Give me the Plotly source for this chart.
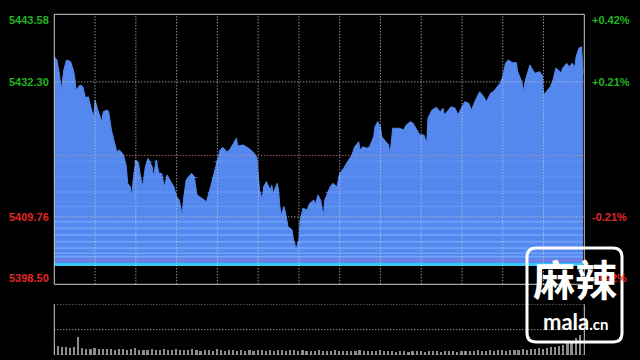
import plotly.graph_objects as go
import numpy as np

# ---------------- data ----------------
prev_close = 5420.03
y_ticks = [5443.58, 5432.30, 5409.76, 5398.50]
y_tick_text = ["5443.58", "5432.30", "5409.76", "5398.50"]
pct_text = ["+0.42%", "+0.21%", "-0.21%", "-0.42%"]

minutes = [0, 2, 4, 5, 7, 9, 12, 14, 15, 16, 19, 21, 23, 25, 28, 29, 30, 32, 35, 36,
           39, 40, 42, 45, 46, 48, 51, 53, 54, 56, 57, 58, 60, 62, 63, 65, 67, 69, 72, 73,
           75, 77, 79, 81, 83, 85, 88, 90, 92, 94, 95, 97, 101, 103, 105, 107, 110, 112, 115, 117,
           120, 122, 124, 127, 129, 132, 134, 135, 139, 143, 146, 149, 150, 151, 153, 154, 156, 159, 160, 161,
           164, 165, 166, 167, 169, 170, 172, 175, 176, 178, 180, 181, 183, 186, 188, 191, 192, 194, 196, 198,
           199, 202, 203, 205, 208, 210, 213, 215, 219, 221, 224, 225, 227, 230, 232, 235, 236, 238, 240, 241,
           243, 246, 247, 248, 249, 254, 257, 259, 262, 264, 267, 269, 272, 274, 275, 278, 281, 284, 286, 287,
           290, 292, 295, 297, 300, 302, 305, 307, 310, 313, 316, 318, 321, 323, 326, 328, 330, 332, 334, 337,
           340, 341, 344, 345, 347, 350, 352, 354, 357, 359, 360, 362, 365, 367, 369, 371, 373, 374, 377, 379,
           381, 383, 384, 386, 388, 389]
prices = [5436.50, 5435.95, 5433.16, 5430.65, 5434.28, 5435.95, 5435.67, 5434.28, 5433.16, 5430.94,
          5431.78, 5431.49, 5429.61, 5429.82, 5427.10, 5426.48, 5429.27, 5427.60, 5425.65, 5427.32,
          5427.60, 5427.32, 5424.26, 5421.47, 5420.64, 5420.92, 5420.09, 5418.13, 5415.36, 5414.79,
          5413.12, 5415.91, 5419.25, 5418.70, 5417.03, 5414.79, 5418.13, 5419.53, 5418.13, 5416.46,
          5419.25, 5417.03, 5417.03, 5414.79, 5416.75, 5415.91, 5414.79, 5413.12, 5412.57, 5410.07,
          5412.57, 5415.91, 5417.03, 5416.46, 5413.41, 5413.12, 5412.57, 5412.29, 5414.79, 5416.46,
          5419.25, 5420.92, 5421.37, 5420.64, 5420.92, 5422.04, 5422.88, 5421.59, 5421.76, 5421.21,
          5420.64, 5419.80, 5417.58, 5414.25, 5412.69, 5414.79, 5415.63, 5414.25, 5415.08, 5413.69,
          5415.36, 5414.25, 5411.46, 5410.07, 5411.46, 5410.62, 5408.12, 5407.57, 5405.90, 5404.51,
          5405.90, 5409.24, 5411.19, 5410.91, 5412.02, 5412.57, 5411.74, 5413.41, 5412.57, 5409.79,
          5412.57, 5414.25, 5414.79, 5415.36, 5414.79, 5417.03, 5417.87, 5418.70, 5420.09, 5421.47,
          5422.31, 5420.92, 5421.47, 5421.21, 5421.47, 5423.14, 5424.81, 5425.65, 5424.81, 5423.14,
          5422.59, 5421.76, 5420.09, 5422.59, 5424.55, 5424.55, 5424.26, 5425.10, 5425.65, 5425.38,
          5424.26, 5423.43, 5423.43, 5422.04, 5426.27, 5427.60, 5428.05, 5427.32, 5427.89, 5426.77,
          5427.60, 5428.15, 5427.89, 5426.77, 5428.15, 5428.99, 5428.72, 5427.60, 5429.27, 5430.65,
          5429.82, 5428.99, 5430.39, 5430.65, 5431.49, 5432.06, 5433.16, 5435.40, 5435.95, 5435.50,
          5435.50, 5434.00, 5432.33, 5430.65, 5432.89, 5435.12, 5434.28, 5433.73, 5434.00, 5433.45,
          5430.11, 5430.65, 5431.49, 5432.61, 5434.56, 5434.28, 5433.73, 5434.56, 5435.40, 5434.83,
          5435.40, 5434.83, 5436.50, 5437.90, 5438.17, 5433.73]

vol_minutes = list(range(0, 390, 3))
volumes = [20, 17, 16, 15, 14, 15, 35, 13, 12, 12, 13, 11, 12, 11, 12, 10, 11, 12, 10, 11,
           13, 10, 9, 10, 11, 9, 10, 12, 9, 10, 11, 9, 10, 9, 12, 9, 8, 10, 9, 8,
           11, 9, 8, 9, 10, 8, 9, 8, 9, 8, 10, 9, 8, 9, 8, 9, 10, 8, 9, 10,
           8, 9, 8, 7, 8, 9, 8, 7, 8, 9, 8, 7, 8, 7, 8, 9, 7, 8, 7, 8,
           9, 7, 8, 7, 6, 7, 8, 6, 7, 8, 7, 6, 7, 8, 7, 6, 7, 8, 7, 6,
           7, 8, 7, 8, 9, 7, 8, 9, 8, 10, 9, 8, 9, 10, 9, 11, 10, 12, 11, 13,
           12, 14, 15, 16, 18, 20, 24, 28, 32, 38]

# ---------------- geometry / style ----------------
W, H = 640, 360
xd = [54.3 / W, 584.3 / W]
yd_main = [1 - 284.3 / H, 1 - 14.3 / H]
yd_vol = [1 - 355.0 / H, 1 - 304.3 / H]
fill_base = 5401.55
FILL = "rgb(84,136,238)"
GRID = "#cfcfcf"
GREEN = "#22b422"
RED = "#e22626"
DOT = "1px,2px"

price_arr = np.array(prices)
fig = go.Figure()

# main area fill
fig.add_trace(go.Scatter(x=minutes, y=[fill_base] * len(minutes), mode="lines",
                         line=dict(width=0, color=FILL), hoverinfo="skip", showlegend=False))
fig.add_trace(go.Scatter(x=minutes, y=prices, mode="lines", fill="tonexty",
                         fillcolor=FILL, line=dict(width=1, color=FILL), showlegend=False))

# horizontal tonal stripes inside the fill
stripes = [
    (5419.0, 0.12, "rgb(94,146,242)"),
    (5416.4, 0.12, "rgb(94,146,242)"),
    (5413.9, 0.12, "rgb(96,148,244)"),
    (5411.5, 0.12, "rgb(98,150,244)"),
    (5408.95, 0.16, "rgb(106,158,248)"),
    (5407.85, 0.16, "rgb(106,158,248)"),
    (5406.73, 0.16, "rgb(108,160,248)"),
    (5405.61, 0.16, "rgb(108,160,248)"),
    (5404.51, 0.16, "rgb(110,162,250)"),
    (5403.68, 0.14, "rgb(112,164,250)"),
    (5403.11, 0.14, "rgb(112,164,250)"),
    (5402.56, 0.16, "rgb(124,122,228)"),
    (5401.80, 0.25, "rgb(56,200,244)"),
]
for lvl, hw, col in stripes:
    lo = lvl - hw
    hi = lvl + hw
    fig.add_trace(go.Scatter(x=minutes, y=[lo] * len(minutes), mode="lines",
                             line=dict(width=0, color=col), hoverinfo="skip", showlegend=False))
    fig.add_trace(go.Scatter(x=minutes, y=np.clip(price_arr, lo, hi), mode="lines",
                             fill="tonexty", fillcolor=col, line=dict(width=0, color=col),
                             hoverinfo="skip", showlegend=False))

# volume bars
fig.add_trace(go.Bar(x=vol_minutes, y=volumes, xaxis="x2", yaxis="y2",
                     marker=dict(color="#8c8c8c", line=dict(width=0)), width=1.2,
                     showlegend=False))

shapes = []
# vertical dotted grid (every 30 minutes) in main panel
for m in range(30, 390, 30):
    shapes.append(dict(type="line", xref="x", yref="paper", x0=m, x1=m,
                       y0=yd_main[0], y1=yd_main[1], layer="above",
                       line=dict(color=GRID, width=1, dash=DOT)))
# horizontal dotted grid
for v in [y_ticks[1], y_ticks[2]]:
    shapes.append(dict(type="line", xref="paper", yref="y", x0=xd[0], x1=xd[1],
                       y0=v, y1=v, layer="above", line=dict(color=GRID, width=1, dash=DOT)))
shapes.append(dict(type="line", xref="paper", yref="y", x0=xd[0], x1=xd[1],
                   y0=prev_close, y1=prev_close, layer="above",
                   line=dict(color="#e0907c", width=1, dash=DOT)))
# main border
shapes.append(dict(type="rect", xref="paper", yref="paper", x0=xd[0], x1=xd[1],
                   y0=yd_main[0], y1=yd_main[1], layer="above",
                   line=dict(color="#cccccc", width=1)))
# volume panel frame
for v in [0, 50, 100]:
    shapes.append(dict(type="line", xref="paper", yref="y2", x0=xd[0], x1=xd[1],
                       y0=v, y1=v, layer="above", line=dict(color=GRID, width=1, dash=DOT)))
for xx in xd:
    shapes.append(dict(type="line", xref="paper", yref="paper", x0=xx, x1=xx,
                       y0=yd_vol[0], y1=yd_vol[1], layer="above",
                       line=dict(color="#cccccc", width=1)))

# watermark rounded rectangle
wx0, wx1 = 527 / W, 622 / W
wy0, wy1 = 1 - 342 / H, 1 - 248 / H
rx, ry = 9 / W, 9 / H
path = (f"M {wx0 + rx},{wy1} L {wx1 - rx},{wy1} Q {wx1},{wy1} {wx1},{wy1 - ry} "
        f"L {wx1},{wy0 + ry} Q {wx1},{wy0} {wx1 - rx},{wy0} L {wx0 + rx},{wy0} "
        f"Q {wx0},{wy0} {wx0},{wy0 + ry} L {wx0},{wy1 - ry} Q {wx0},{wy1} {wx0 + rx},{wy1} Z")
shapes.append(dict(type="path", xref="paper", yref="paper", path=path, layer="above",
                   line=dict(color="white", width=3)))

annotations = []
lab_font = dict(family="Liberation Sans, Arial", size=11, weight="bold")
left_pos = [("paper", 1 - 20 / H), ("y", y_ticks[1]), ("y", y_ticks[2]), ("paper", 1 - 278 / H)]
colors = [GREEN, GREEN, RED, RED]
for i in range(4):
    yref, yv = left_pos[i]
    annotations.append(dict(x=51 / W, xref="paper", y=yv, yref=yref, text=y_tick_text[i],
                            showarrow=False, xanchor="right", yanchor="middle",
                            font=dict(color=colors[i], **lab_font)))
    annotations.append(dict(x=590 / W, xref="paper", y=yv, yref=yref, text=pct_text[i],
                            showarrow=False, xanchor="left", yanchor="middle",
                            font=dict(color=colors[i], **lab_font)))

annotations.append(dict(x=575 / W, xref="paper", y=1 - 277 / H, yref="paper", text="麻辣",
                        showarrow=False, xanchor="center", yanchor="middle",
                        font=dict(family="Noto Sans CJK SC", size=42, color="white", weight="bold")))
annotations.append(dict(x=576 / W, xref="paper", y=1 - 321 / H, yref="paper",
                        text="mala<span style='font-size:15px'>.cn</span>",
                        showarrow=False, xanchor="center", yanchor="middle",
                        font=dict(family="Lato", size=22, color="white", weight="bold")))

fig.update_layout(
    width=W, height=H, margin=dict(l=0, r=0, t=0, b=0),
    paper_bgcolor="black", plot_bgcolor="black",
    xaxis=dict(domain=xd, range=[0, 390], showgrid=False, zeroline=False,
               showticklabels=False, ticks="", fixedrange=True),
    yaxis=dict(domain=yd_main, range=[y_ticks[3], y_ticks[0]], showgrid=False,
               zeroline=False, showticklabels=False, ticks=""),
    xaxis2=dict(domain=xd, range=[0, 390], anchor="y2", showgrid=False, zeroline=False,
                showticklabels=False, ticks=""),
    yaxis2=dict(domain=yd_vol, range=[0, 100], anchor="x2", showgrid=False, zeroline=False,
                showticklabels=False, ticks=""),
    shapes=shapes, annotations=annotations, showlegend=False, bargap=0,
)

fig.write_html("out.html")
